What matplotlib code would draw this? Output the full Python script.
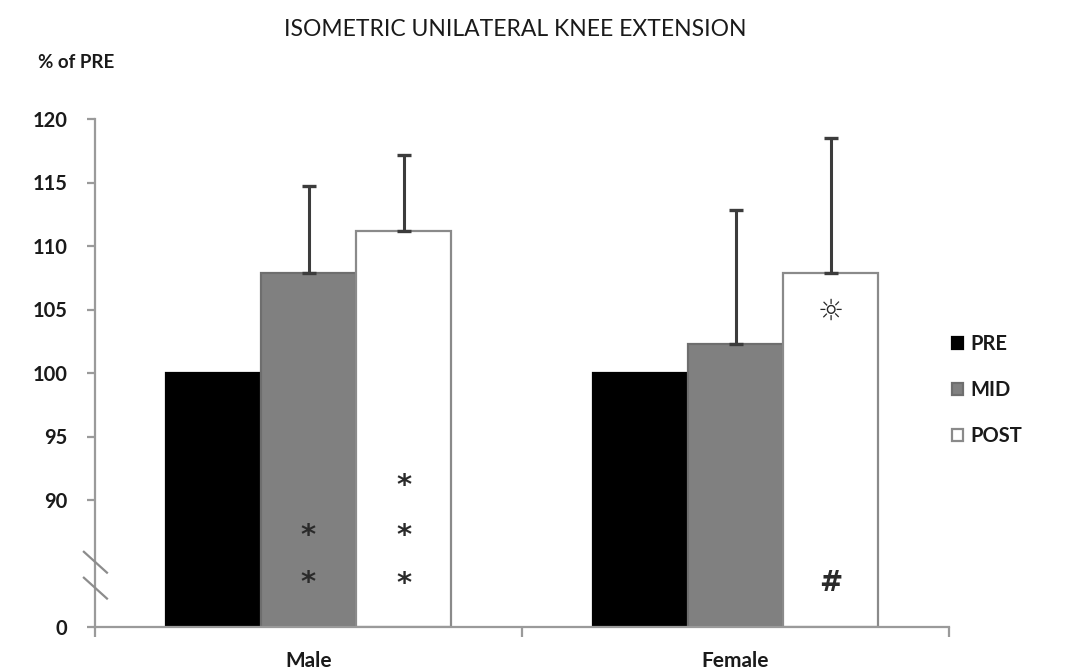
import matplotlib
matplotlib.use("Agg")
import matplotlib.pyplot as plt
import numpy as np

# Data
groups = ["Male", "Female"]
series = ["PRE", "MID", "POST"]
values = {
    "PRE": [100.0, 100.0],
    "MID": [107.9, 102.3],
    "POST": [111.2, 107.9],
}
errors = {
    "PRE": [0.0, 0.0],
    "MID": [6.8, 10.5],
    "POST": [6.0, 10.6],
}
y_ticks = [80, 90, 95, 100, 105, 110, 115, 120]
y_tick_labels = ["0", "90", "95", "100", "105", "110", "115", "120"]

# significance marks: (group index, series, y value, symbol)
marks = [
    (0, "MID", 87.2, "*"), (0, "MID", 83.5, "*"),
    (0, "POST", 91.1, "*"), (0, "POST", 87.2, "*"), (0, "POST", 83.4, "*"),
    (1, "POST", 104.8, "\u263c"), (1, "POST", 83.5, "#"),
]

plt.rcParams["font.family"] = ["Lato", "DejaVu Sans"]

fills = {"PRE": "#000000", "MID": "#808080", "POST": "#ffffff"}
edges = {"PRE": "#000000", "MID": "#6e6e6e", "POST": "#8a8a8a"}
axis_col = "#9a9a9a"
text_col = "#1a1a1a"

fig = plt.figure(figsize=(10.71, 6.70), dpi=100)
ax = fig.add_axes([95 / 1071, 1 - 627 / 670, (949 - 95) / 1071, (627 - 119) / 670])

x = np.arange(len(groups))
width = 0.223
base = 80
for i, s in enumerate(series):
    xs = x + (i - 1) * width
    heights = [v - base for v in values[s]]
    ax.bar(xs, heights, width=width, bottom=base, color=fills[s],
           edgecolor=edges[s], linewidth=1.6, label=s, zorder=2)
    err = np.array(errors[s])
    if err.any():
        ax.errorbar(xs, values[s], yerr=[np.zeros_like(err), err], fmt="none",
                    ecolor="#3c3c3c", elinewidth=2.2, capsize=5,
                    capthick=2.4, zorder=3)

for gi, s, yv, sym in marks:
    xi = x[gi] + (series.index(s) - 1) * width
    if sym == "*":
        size, weight = 21, "bold"
    elif sym == "#":
        size, weight = 20, "bold"
    else:
        size, weight = 21, "bold"
    ax.text(xi, yv, sym, ha="center", va="center", fontsize=size,
            fontweight=weight, color="#2a2a2a", family=["DejaVu Sans"], zorder=4)

ax.set_xlim(-0.5, 1.5)
ax.set_ylim(80, 120)
ax.set_yticks(y_ticks)
ax.set_yticklabels(y_tick_labels)
ax.set_xticks(x)
ax.set_xticklabels(groups)
ax.set_xticks([-0.5, 0.5, 1.5], minor=True)
ax.tick_params(axis="x", which="major", length=0, pad=17, labelsize=15,
               labelcolor=text_col)
ax.tick_params(axis="x", which="minor", length=7, width=1.6, color=axis_col,
               direction="out")
ax.tick_params(axis="y", length=6, width=1.6, color=axis_col, direction="out",
               labelsize=14.5, labelcolor=text_col, pad=14)
for lab in ax.get_xticklabels() + ax.get_yticklabels():
    lab.set_fontweight("bold")

for side in ("top", "right"):
    ax.spines[side].set_visible(False)
for side in ("left", "bottom"):
    ax.spines[side].set_color(axis_col)
    ax.spines[side].set_linewidth(1.6)

# axis break marks
for yb in (85.1, 83.06):
    ax.plot([-0.5 - 0.026, -0.5 + 0.028], [yb + 0.82, yb - 0.82],
            color="#8c8c8c", lw=1.6, clip_on=False, zorder=5)

fig.text(515 / 1071, 1 - 30 / 670, "ISOMETRIC UNILATERAL KNEE EXTENSION",
         ha="center", va="center", fontsize=16.5, fontweight="normal", color=text_col)
fig.text(38 / 1071, 1 - 63 / 670, "% of PRE", ha="left", va="center",
         fontsize=13.5, fontweight="bold", color=text_col)

leg = ax.legend(loc="center left", bbox_to_anchor=(944 / 1071, 1 - 390 / 670),
                bbox_transform=fig.transFigure, frameon=False, fontsize=14.5,
                handlelength=0.55, handleheight=0.55, handletextpad=0.35,
                labelspacing=1.3, borderaxespad=0)
for t in leg.get_texts():
    t.set_fontweight("bold")
    t.set_color(text_col)

fig.savefig("out.png", dpi=100, facecolor="white")
